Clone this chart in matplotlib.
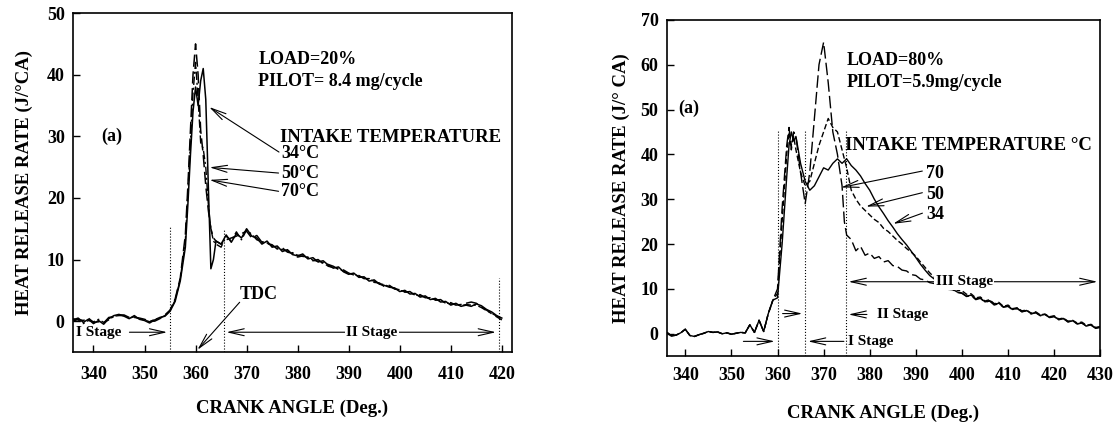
import matplotlib
matplotlib.use("Agg")
import matplotlib.pyplot as plt

plt.rcParams['font.family'] = ['Liberation Serif', 'DejaVu Serif']
plt.rcParams['font.weight'] = 'bold'

# ---- LOAD = 20 % panel ----
ang_pre_l = list(range(336, 358))
ang_peak_l = [358, 358.5, 359, 359.5, 360, 360.5, 361, 361.5, 362, 362.5, 363, 363.5, 364, 365]
ang_tail_l = list(range(366, 421))

hrr_34_pre = [0.2, 0.5, -0.2, 0.3, -0.4, 0.1, -0.5, 0.4, 0.9, 1.1, 0.8, 0.4, 0.9, 0.3, 0.1, -0.3, 0.2, 0.6, 0.8, 1.6, 3.2, 6.5]
hrr_34_peak = [12, 19, 27, 34, 38, 35, 39, 41, 36, 22, 8.5, 10, 13, 12.5]
hrr_34_tail = [14.0, 12.8, 14.2, 13.5, 15.0, 13.8, 13.5, 12.5, 13.0, 12.0, 12.2, 11.3, 11.6, 10.8, 10.6,
               10.9, 10.1, 10.3, 9.6, 9.8, 9.1, 8.6, 8.8, 8.0, 7.6, 7.8, 7.1, 7.2, 6.5, 6.7,
               6.0, 5.8, 5.5, 5.4, 4.8, 5.0, 4.4, 4.5, 3.9, 4.1, 3.5, 3.7, 3.1, 3.2, 2.6,
               2.9, 2.4, 2.6, 2.4, 2.8, 2.5, 1.9, 1.5, 0.9, 0.5]

hrr_50_pre = [0.0, 0.3, 0.1, 0.5, -0.2, -0.1, -0.3, 0.6, 0.7, 1.0, 1.0, 0.6, 0.6, 0.5, 0.3, 0.0, 0.0, 0.4, 1.0, 1.8, 3.6, 7.0]
hrr_50_peak = [14, 22, 31, 40, 45, 40, 31, 27, 22, 18, 15, 13.5, 13, 12.5]
hrr_50_tail = [13.2, 13.5, 13.8, 14.2, 14.6, 13.5, 13.9, 12.8, 12.6, 12.4, 11.7, 11.9, 11.2, 11.0, 10.4,
               10.6, 10.3, 9.8, 10.0, 9.3, 9.2, 8.9, 8.4, 8.3, 7.8, 7.5, 7.4, 6.9, 6.9, 6.3,
               6.2, 5.6, 5.8, 5.2, 5.1, 4.7, 4.8, 4.2, 4.3, 3.8, 3.8, 3.4, 3.5, 2.9, 3.0,
               2.6, 2.7, 2.9, 3.1, 2.9, 2.3, 1.8, 1.2, 0.7, 0.2]

hrr_70_pre = [0.4, 0.2, -0.4, 0.1, -0.1, 0.3, -0.2, 0.2, 0.8, 0.9, 0.9, 0.5, 0.7, 0.4, 0.2, -0.1, 0.3, 0.5, 0.9, 1.7, 3.4, 6.8]
hrr_70_peak = [13, 21, 29, 37, 42, 36, 29, 28, 25, 19, 15, 13, 12.5, 12]
hrr_70_tail = [13.8, 13.0, 14.5, 13.2, 14.8, 14.1, 13.2, 12.9, 12.7, 12.2, 11.9, 11.6, 11.4, 11.1, 10.7,
               10.5, 10.4, 9.9, 9.7, 9.5, 8.9, 8.7, 8.5, 8.1, 7.7, 7.6, 7.3, 7.0, 6.7, 6.5,
               6.1, 5.9, 5.6, 5.3, 5.0, 4.8, 4.6, 4.3, 4.1, 3.9, 3.6, 3.5, 3.3, 3.0, 2.8,
               2.7, 2.5, 2.7, 2.6, 2.6, 2.2, 1.7, 1.3, 0.8, 0.4]

# ---- LOAD = 80 % panel ----
ang_pre_r = list(range(336, 360))
ang_main_r = [360, 361, 362, 362.5, 363, 363.5, 364, 365, 366, 367, 368, 369, 370, 371, 372, 373, 374, 374.5, 375]
ang_tail_r = list(range(376, 431))

hrr_base_r = [0.3, -0.5, -0.3, 0.2, 1.0, -0.4, -0.6, -0.2, 0.1, 0.5, 0.3, 0.4, 0.0, 0.2, -0.1, 0.1,
              0.3, 0.2, 2.0, 0.3, 3.0, 0.5, 4.5, 7.5]

r70_main = [10, 28, 42, 46, 41, 45, 44, 36, 29, 36, 48, 60, 65, 56, 45, 40, 33, 25, 22]
r70_tail = [21.0, 18.5, 19.5, 17.5, 18.0, 16.8, 17.2, 16.0, 16.3, 15.2, 15.0, 14.2, 14.0, 13.2, 13.0,
            12.2, 12.0, 11.4, 11.2, 10.6, 10.5, 9.9, 9.8, 9.2, 9.0, 8.3, 8.5, 7.6, 7.9, 7.0,
            7.3, 6.4, 6.7, 5.9, 6.1, 5.3, 5.6, 4.9, 5.1, 4.4, 4.7, 4.0, 4.3, 3.6, 3.8,
            3.2, 3.4, 2.7, 2.9, 2.2, 2.4, 1.7, 1.9, 1.2, 1.4]

r50_main = [9, 25, 40, 45, 42, 44, 41, 36, 33, 34, 38, 42, 45, 48, 46, 45, 41, 39, 37]
r50_tail = [32.0, 30.0, 28.5, 27.5, 26.5, 25.5, 24.8, 23.5, 22.8, 21.8, 20.8, 20.0, 19.0, 18.2, 17.3,
            16.0, 14.8, 13.6, 12.6, 11.8, 11.3, 10.6, 10.4, 9.7, 9.6, 8.8, 8.9, 8.0, 8.2, 7.3,
            7.6, 6.7, 7.0, 6.1, 6.4, 5.6, 5.8, 5.1, 5.3, 4.6, 4.9, 4.2, 4.4, 3.8, 4.0,
            3.3, 3.5, 2.8, 3.0, 2.4, 2.6, 1.9, 2.1, 1.4, 1.6]

r34_main = [8, 20, 35, 42, 45, 43, 44, 38, 34, 32, 33, 35, 37, 36.5, 38, 39, 38, 38.5, 39]
r34_tail = [37.5, 36.5, 35.2, 33.5, 32.0, 30.0, 28.3, 26.8, 25.2, 23.8, 22.3, 21.0, 19.8, 18.4, 17.0,
            15.5, 14.2, 13.0, 12.2, 11.4, 10.8, 10.2, 9.9, 9.3, 9.1, 8.4, 8.6, 7.8, 8.0, 7.1,
            7.4, 6.6, 6.8, 6.0, 6.2, 5.4, 5.7, 4.9, 5.2, 4.5, 4.7, 4.1, 4.3, 3.7, 3.9,
            3.1, 3.4, 2.6, 2.9, 2.2, 2.4, 1.7, 2.0, 1.3, 1.5]

fig = plt.figure(figsize=(11.17, 4.22), dpi=100)
ax1 = fig.add_axes([0.0654, 0.166, 0.393, 0.803])
ax2 = fig.add_axes([0.597, 0.156, 0.388, 0.797])

ang_l = ang_pre_l + ang_peak_l + ang_tail_l
ax1.plot(ang_l, hrr_34_pre + hrr_34_peak + hrr_34_tail, color='black', lw=1.1)
ax1.plot(ang_l, hrr_50_pre + hrr_50_peak + hrr_50_tail, color='black', lw=1.1, dashes=(8, 3))
ax1.plot(ang_l, hrr_70_pre + hrr_70_peak + hrr_70_tail, color='black', lw=1.0, dashes=(6, 2, 1.5, 2))

ang_r = ang_pre_r + ang_main_r + ang_tail_r
ax2.plot(ang_r, hrr_base_r + r34_main + r34_tail, color='black', lw=1.0)
ax2.plot(ang_r, hrr_base_r + r50_main + r50_tail, color='black', lw=1.0, dashes=(4, 2))
ax2.plot(ang_r, hrr_base_r + r70_main + r70_tail, color='black', lw=1.0, dashes=(9, 3))

for ax in (ax1, ax2):
    ax.tick_params(direction='in', length=5, width=1, labelsize=13, pad=6,
                   top=False, right=False)
    for s in ax.spines.values():
        s.set_linewidth(1.2)
    for lab in ax.get_xticklabels() + ax.get_yticklabels():
        lab.set_fontweight('bold')
ax1.tick_params(axis='x', pad=10)
ax2.tick_params(axis='x', pad=8)

ax1.set_xlim(336, 422)
ax1.set_ylim(-5, 50)
ax1.set_xticks(range(340, 421, 10))
ax1.set_yticks(range(0, 51, 10))
ax1.set_xlabel('CRANK ANGLE (Deg.)', fontsize=13.5, fontweight='bold', labelpad=12)
ax1.set_ylabel('HEAT RELEASE RATE (J/°CA)', fontsize=13.5, fontweight='bold', labelpad=10)

ax2.set_xlim(336, 430)
ax2.set_ylim(-5, 70)
ax2.set_xticks(range(340, 431, 10))
ax2.set_yticks(range(0, 71, 10))
ax2.set_xlabel('CRANK ANGLE (Deg.)', fontsize=13.5, fontweight='bold', labelpad=15)
ax2.set_ylabel('HEAT RELEASE RATE (J/° CA)', fontsize=13.5, fontweight='bold', labelpad=8)

arr = dict(arrowstyle='->,head_length=1.1,head_width=0.25', color='black', lw=0.8)
arr2 = dict(arrowstyle='<->,head_length=1.1,head_width=0.25', color='black', lw=0.8)
fs = 13
fs_st = 11

# left annotations
ax1.text(372.3, 42.4, 'LOAD=20%', fontsize=fs, va='center')
ax1.text(372.3, 38.9, 'PILOT= 8.4 mg/cycle', fontsize=fs, va='center')
ax1.text(341.5, 30, '(a)', fontsize=fs, va='center')
ax1.text(376.6, 29.8, 'INTAKE TEMPERATURE', fontsize=13.5, va='center')
for lbl, ty, py in [('34°C', 27.2, 35), ('50°C', 24.0, 25), ('70°C', 21.0, 23)]:
    ax1.text(376.8, ty, lbl, fontsize=fs, va='center')
    ax1.annotate('', xy=(362.2, py), xytext=(376.8, ty), arrowprops=arr)
ax1.text(368.6, 4.3, 'TDC', fontsize=fs, va='center')
ax1.annotate('', xy=(360, -5), xytext=(369, 3.4), arrowprops=arr)
for xv, top in [(355, 15.5), (365.5, 15.0), (419.4, 7.0)]:
    ax1.plot([xv, xv], [-5, top], color='black', lw=0.8, ls=':')
ax1.text(336.5, -1.8, 'I Stage', fontsize=fs_st, va='center')
ax1.annotate('', xy=(355, -1.8), xytext=(346.5, -1.8), arrowprops=arr)
ax1.annotate('', xy=(365.5, -1.8), xytext=(419.4, -1.8), arrowprops=arr2)
ax1.text(394.5, -1.8, 'II Stage', fontsize=fs_st, va='center', ha='center',
         bbox=dict(facecolor='white', edgecolor='none', pad=1))

# right annotations
ax2.text(375.1, 61, 'LOAD=80%', fontsize=fs, va='center')
ax2.text(375.1, 56, 'PILOT=5.9mg/cycle', fontsize=fs, va='center')
ax2.text(338.4, 50.3, '(a)', fontsize=fs, va='center')
ax2.text(374.7, 42, 'INTAKE TEMPERATURE °C', fontsize=13.5, va='center')
for lbl, ty, px, py in [('70', 35.8, 373.2, 32.5), ('50', 31.0, 378.6, 28.2), ('34', 26.5, 384.5, 24.3)]:
    ax2.text(392.2, ty, lbl, fontsize=fs, va='center')
    ax2.annotate('', xy=(px, py), xytext=(392.0, ty + 0.6), arrowprops=arr)
for xv in (360, 366, 374.8):
    ax2.plot([xv, xv], [-5, 45.3], color='black', lw=0.8, ls=':')
ax2.annotate('', xy=(360, -1.7), xytext=(352, -1.7), arrowprops=arr)
ax2.annotate('', xy=(366, -1.7), xytext=(375, -1.7), arrowprops=arr)
ax2.text(375.2, -1.7, 'I Stage', fontsize=fs_st, va='center')
ax2.annotate('', xy=(366, 4.5), xytext=(360.5, 4.5), arrowprops=arr)
ax2.annotate('', xy=(374.8, 4.3), xytext=(380, 4.3), arrowprops=arr)
ax2.text(381.5, 4.3, 'II Stage', fontsize=fs_st, va='center')
ax2.annotate('', xy=(374.8, 11.6), xytext=(430, 11.6), arrowprops=arr2)
ax2.text(400.5, 11.6, 'III Stage', fontsize=fs_st, va='center', ha='center',
         bbox=dict(facecolor='white', edgecolor='none', pad=1))

fig.savefig('out.png', dpi=100)
